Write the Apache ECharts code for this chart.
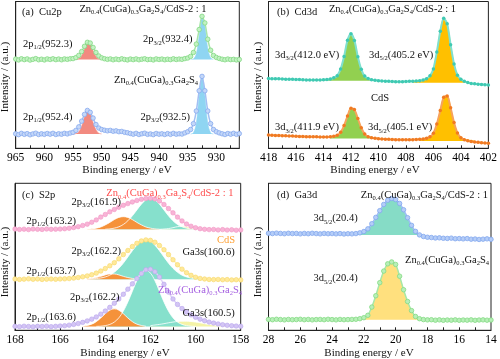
<!DOCTYPE html>
<html><head><meta charset="utf-8">
<script src="https://cdn.jsdelivr.net/npm/echarts@6/dist/echarts.min.js"></script>
<style>html,body{margin:0;padding:0;background:#fff}#c{width:500px;height:359px}</style>
</head><body><div id="c"></div>
<script>
// ---------- Panel (a) Cu2p : 965 -> 926 eV, step 0.5 ----------
const aStart = 965, aStep = 0.5;
const aTop = [60.8,60.2,61.0,60.4,60.9,60.1,60.6,61.1,60.3,60.7,
 60.2,60.9,60.5,61.0,60.4,60.8,60.3,60.9,60.6,61.0,
 61.1,61.8,63.3,65.9,69.5,72.2,71.7,68.7,65.3,62.9,
 61.6,61.0,60.6,60.9,60.3,60.8,60.4,61.0,60.5,60.2,
 60.8,60.4,60.9,60.3,60.7,61.0,60.4,60.6,60.2,60.9,
 60.5,60.8,60.3,60.7,60.4,61.0,60.5,60.8,60.6,61.1,
 61.5,62.6,65.3,71.0,80.9,89.9,85.4,74.3,66.8,63.2,
 61.9,61.2,60.7,60.3,60.8,60.4,60.6,60.2,60.5];
const aBot = [9.9,9.3,10.2,9.5,10.0,9.2,9.8,10.3,9.4,9.9,
 9.5,10.1,9.6,10.2,9.4,9.9,9.6,10.2,9.8,10.4,
 10.9,12.2,14.6,18.5,23.1,25.8,24.5,20.6,16.2,13.8,
 12.8,12.3,11.9,12.2,11.6,11.9,11.3,11.5,10.9,10.6,
 10.1,9.6,10.2,9.4,9.9,10.3,9.5,9.8,9.3,10.1,
 9.6,9.9,9.4,10.0,9.5,10.2,9.6,9.9,9.7,10.5,
 11.3,12.8,16.8,25.4,39.2,49.0,39.2,25.4,16.8,12.8,
 11.3,10.5,9.9,9.4,10.1,9.6,10.2,9.5,10.0];
const aTopRed = [60.6,61.1,63.1,67.5,71.5,71.0,66.5,62.6,60.9,60.5];      // from 954.5
const aTopBlue = [60.5,60.9,64.5,76.7,89.4,83.2,68.2,61.7,60.6];          // from 934.5
const aBotRed = [9.7,10.0,11.3,15.1,21.4,25.5,23.6,17.5,12.6,10.3,9.8];   // from 955
const aBotBlue = [9.7,10.6,17.2,35.6,49.0,35.6,17.2,10.6,9.7];           // from 934.5
const aTicks = [927.5,930,932.5,935,937.5,940,942.5,945,947.5,950,952.5,955,957.5,960,962.5,965];
const aLabels = [930,935,940,945,950,955,960,965];

// ---------- Panel (b) Cd3d : 418 -> 402 eV, step 0.25 ----------
const bStart = 418, bStep = 0.25;
const bTop = [47.5,47.4,47.3,47.3,47.2,47.1,47.0,47.0,
 46.9,46.8,46.7,46.6,46.6,46.6,46.6,46.6,
 46.7,46.9,47.2,48.0,49.5,54.1,62.6,73.6,
 78.0,73.5,62.4,53.8,49.2,47.5,46.7,46.3,
 46.0,45.9,45.7,45.6,45.5,45.4,45.4,45.4,
 45.5,45.6,45.6,45.8,46.0,46.5,47.4,49.4,
 54.1,65.6,79.8,88.6,84.9,70.6,57.5,49.8,
 47.0,45.6,44.8,44.2,43.9,43.7,43.5,43.3,
 43.1];
const bBot = [9.0,8.9,8.8,8.7,8.6,8.5,8.4,8.3,
 8.2,8.1,8.0,7.9,7.9,7.8,7.8,7.7,
 7.7,7.7,7.9,8.2,8.9,10.9,15.5,22.0,
 27.2,26.4,20.3,14.0,9.7,7.9,7.2,6.8,
 6.5,6.35,6.2,6.1,6.0,5.9,5.85,5.8,
 5.8,5.85,5.9,5.95,6.1,6.35,6.8,7.8,
 10.3,16.5,25.7,34.8,35.6,27.6,17.6,10.45,
 7.2,5.8,5.1,4.6,4.3,4.1,3.85,3.6,
 3.5];
const bTopGreen = [46.7,46.9,47.2,48.0,49.5,54.1,62.6,73.6,78.0,73.5,62.4,53.8,49.2,47.5,46.7,46.3,46.0]; // from 414
const bTopYellow = [45.6,45.8,46.0,46.5,47.4,49.4,54.1,65.6,79.8,88.6,84.9,70.6,57.5,49.8,47.0,45.6,44.8]; // from 407.5
const bBotGreen = [7.3,7.7,8.5,10.6,15.3,21.9,27.2,26.4,20.3,14.0,9.9,8.3,7.6,7.2,6.9];  // from 413.5
const bBotYellow = [5.6,6.0,6.6,7.7,10.2,16.4,25.7,34.8,35.6,27.6,17.6,10.6,7.6,6.4,5.8,5.4,5.1]; // from 407
const bTicks = [403,404,405,406,407,408,409,410,411,412,413,414,415,416,417];
const bLabels = [402,404,406,408,410,412,414,416,418];

// ---------- Panel (c) S2p : 168 -> 158 eV, step 0.2 ----------
const cStart = 168, cStep = 0.2;
const cTop = [68.9,68.6,68.8,68.5,68.9,68.7,68.6,68.9,68.7,68.8,
 68.9,69.1,69.4,69.9,70.5,71.3,72.2,73.5,75.1,77.0,
 78.8,80.6,82.2,83.7,85.0,86.2,87.3,88.3,89.1,89.6,
 89.8,89.4,88.0,85.6,82.8,79.9,77.0,74.4,72.3,70.8,
 69.8,69.1,68.7,68.5,68.6,68.3,68.5,68.2,68.4,68.1,
 68.3];
const cMid = [34.9,34.6,34.8,35.0,34.7,34.9,34.6,34.8,34.9,34.7,
 34.9,35.0,35.2,35.5,35.9,36.4,37.0,37.8,38.9,40.3,
 42.0,43.9,46.0,48.6,51.5,54.3,57.0,59.2,60.8,61.5,
 61.2,59.9,57.7,54.8,51.5,48.0,44.6,41.6,39.2,37.4,
 36.1,35.3,34.9,34.6,34.5,34.6,34.4,34.5,34.3,34.4,
 34.3];
const cBot = [2.7,2.5,2.8,2.6,2.4,2.7,2.6,2.8,2.5,2.7,
 2.9,3.1,3.5,4.0,4.6,5.4,6.4,7.6,9.1,11.0,
 13.1,15.6,18.4,21.3,24.5,28.0,31.6,35.2,38.6,41.2,
 41.6,39.8,36.2,31.3,26.0,21.3,17.6,14.8,12.4,10.5,
 8.9,7.6,6.5,5.6,4.9,4.3,3.8,3.4,3.1,2.9,
 2.7];
const cTopOrange = [68.8,69.0,69.5,70.3,71.7,73.4,75.3,76.8,77.3,76.8,75.3,73.4,71.7,70.3,69.5,69.0,68.8]; // from 164.8
const cTopTeal = [68.8,69.0,69.5,70.4,72.0,74.5,77.9,81.9,85.8,88.7,89.8,88.7,85.8,81.9,77.9,74.5,72.0,70.4,69.5,69.0,68.8,68.7]; // from 164.0
const cTopYellow = [68.7,68.9,69.2,69.8,70.5,70.7,70.5,69.8,69.2,68.9,68.7]; // from 161.6
const cMidTeal = [35.0,35.2,35.6,36.3,37.5,39.5,42.2,45.7,49.9,54.1,57.9,60.5,61.4,60.5,57.9,54.1,49.9,45.7,42.2,39.5,37.5,36.3,35.6,35.2,35.0,34.9]; // from 164.6
const cMidOrange = [35.0,35.3,35.9,36.7,37.7,38.3,38.3,37.7,36.7,35.9,35.3,35.0]; // from 164.8
const cBotYellow = [3.2,3.6,4.0,4.5,5.1,5.6,6.0,6.2,6.2,6.0,5.6,5.1,4.5,4.0,3.6,3.2,3.0,2.8]; // from 162.0
const cBotTeal = [2.7,2.8,3.2,4.0,5.6,8.5,13.1,19.3,26.6,33.7,38.9,40.9,38.9,33.7,26.6,19.3,13.1,8.5,5.6,4.0,3.2,2.8,2.7]; // from 164.4
const cBotOrange = [2.8,3.3,4.2,5.9,8.4,11.3,13.7,14.6,13.7,11.3,8.4,5.9,4.2,3.3,2.8]; // from 165.0
const cTicks = [159,160,161,162,163,164,165,166,167];
const cLabels = [158,160,162,164,166,168];

// ---------- Panel (d) Ga3d : 28 -> 14 eV, step 0.25 ----------
const dStart = 28, dStep = 0.25;
const dTop = [66.0,65.8,66.1,65.9,65.7,66.0,65.8,65.9,
 65.6,65.9,65.7,66.0,65.8,65.6,65.9,65.7,
 65.8,65.6,65.8,65.5,65.7,65.6,65.8,66.3,
 67.2,69.0,72.5,76.8,81.4,85.6,88.5,89.7,
 88.9,86.3,82.0,76.6,71.4,67.3,64.9,63.8,
 63.3,63.1,62.8,62.9,62.6,62.5,62.7,62.3,
 62.4,62.2,62.4,62.0,62.1,61.8,62.0,62.2,
 61.9];
const dBot = [7.4,7.2,7.5,7.3,7.1,7.4,7.2,7.3,
 7.5,7.2,7.4,7.1,7.3,7.4,7.2,7.5,
 7.3,7.1,7.4,7.2,7.3,7.4,7.5,7.9,
 8.6,10.2,15.8,23.5,32.4,40.3,45.2,46.5,
 44.8,36.8,27.6,19.6,13.4,9.4,7.9,7.3,
 7.1,7.2,6.9,7.1,6.8,7.0,6.9,7.1,
 6.8,7.0,6.9,7.1,6.8,7.0,7.1,6.9,
 7.0];
const dTopTeal = [65.0,65.6,66.6,68.5,72.0,76.3,80.9,85.1,88.0,89.2,88.4,85.8,81.5,76.2,70.9,66.9,64.8]; // from 22.5
const dBotYellow = [7.3,7.8,9.6,15.2,23.0,31.9,39.8,44.7,46.0,44.3,36.3,27.1,19.1,12.9,9.0,7.6,7.2]; // from 22.25
const dTicks = [15,16,17,18,19,20,21,22,23,24,25,26,27];
const dLabels = [14,16,18,20,22,24,26,28];

// ---------- build ----------
const F = '"Liberation Serif","Times New Roman",serif';
function pts(start, step, vals){ return vals.map((v,i)=>[Math.round((start - step*i)*1000)/1000, v]); }
function dataS(g, start, step, vals, st){
  return {type:'line', xAxisIndex:g, yAxisIndex:g, data:pts(start,step,vals), smooth:0.25,
    symbol:'circle', symbolSize:st.size, showSymbol:true,
    itemStyle:{color:st.fill, borderColor:st.border, borderWidth:st.bw},
    lineStyle:{color:st.line, width:st.lw}, z:4, silent:true, animation:false};
}
function compS(g, start, step, vals, origin, color, outline, ow){
  return {type:'line', xAxisIndex:g, yAxisIndex:g, data:pts(start,step,vals), smooth:0.4,
    symbol:'none', lineStyle:{color:outline, width:ow}, areaStyle:{color:color, opacity:1, origin:origin},
    z:2, silent:true, animation:false};
}
const axisCol = '#222';
function xAx(g, min, max, ticks, labels){
  return {type:'value', gridIndex:g, min:min, max:max, inverse:true,
    axisLine:{show:true, onZero:false, lineStyle:{color:axisCol, width:1}},
    axisTick:{show:true, inside:true, length:3, customValues:ticks, lineStyle:{color:axisCol}},
    axisLabel:{customValues:labels, margin:4, fontSize:11.5, fontFamily:F, color:'#000'},
    splitLine:{show:false}};
}
function yAx(g){
  return {type:'value', gridIndex:g, min:0, max:100,
    axisLine:{show:true, lineStyle:{color:axisCol, width:1}}, axisTick:{show:false},
    axisLabel:{show:false}, splitLine:{show:false}};
}
const gridBase = {show:true, borderColor:axisCol, borderWidth:1, backgroundColor:'rgba(0,0,0,0)'};

const R = {s:{fontSize:6.5, fontFamily:F, verticalAlign:'bottom', lineHeight:8}};
function T(x, y, text, o){
  o = o || {};
  return {type:'text', x:x, y:y, rotation:o.rot||0, z:100, silent:true,
    style:{text:text, rich:R, fill:o.color||'#111', font:(o.size||10.5)+'px '+F,
      lineHeight:14, align:o.align||'left', verticalAlign:'middle',
      textAlign:o.align||'left', textVerticalAlign:'middle'}};
}
const formulaFull = 'Zn{s|0.4}(CuGa){s|0.3}Ga{s|2}S{s|4}/CdS-2 : 1';
const formulaZ = 'Zn{s|0.4}(CuGa){s|0.3}Ga{s|2}S{s|4}';

const st = {
  aG:{size:4.5, fill:'#c3f2c3', border:'#84d884', bw:0.8, line:'#a9e6a9', lw:1.5},
  aB:{size:4.5, fill:'#c4d7f8', border:'#86a9ef', bw:0.8, line:'#a3c0f3', lw:1.5},
  bT:{size:3.5, fill:'#3fc9b2', border:'#3fc9b2', bw:0, line:'#7ee0cf', lw:2},
  bO:{size:3.5, fill:'#f07a22', border:'#f07a22', bw:0, line:'#f7a35c', lw:2},
  cP:{size:4.5, fill:'#f8b4d6', border:'#f296c5', bw:0.6, line:'#f9c6e0', lw:1.5},
  cY:{size:4.5, fill:'#ffe99a', border:'#f7d766', bw:0.6, line:'#fff0b8', lw:1.5},
  cL:{size:4.5, fill:'#d3c5f4', border:'#b9a5ee', bw:0.6, line:'#ddd2f7', lw:1.5},
  dB:{size:4.5, fill:'#b5cdf7', border:'#82a7ef', bw:0.8, line:'#9dbdf5', lw:1.5},
  dG:{size:4.5, fill:'#b8efb8', border:'#84db84', bw:0.8, line:'#a6e8a6', lw:1.5}
};
const RED='#f28a80', SKY='#8fd5f2', LGREEN='#92d050', GOLD='#ffc000', ORG='#f5923a', TEAL='#86e0cc', LYEL='#f4f3a6', DTEAL='#86dcc6', DYEL='#ffe07e';

const series = [
  // (a)
  compS(0, 954.5, 0.5, aTopRed, 60.5, RED, RED, 0.5),
  compS(0, 934.5, 0.5, aTopBlue, 60.5, SKY, SKY, 0.5),
  compS(0, 955, 0.5, aBotRed, 9.7, RED, RED, 0.5),
  compS(0, 934.5, 0.5, aBotBlue, 9.7, SKY, SKY, 0.5),
  dataS(0, aStart, aStep, aTop, st.aG),
  dataS(0, aStart, aStep, aBot, st.aB),
  // (b)
  compS(1, 414, 0.25, bTopGreen, 46.0, LGREEN, LGREEN, 0.5),
  compS(1, 407.5, 0.25, bTopYellow, 44.6, GOLD, GOLD, 0.5),
  compS(1, 413.5, 0.25, bBotGreen, 6.6, LGREEN, LGREEN, 0.5),
  compS(1, 407, 0.25, bBotYellow, 5.0, GOLD, GOLD, 0.5),
  dataS(1, bStart, bStep, bTop, st.bT),
  dataS(1, bStart, bStep, bBot, st.bO),
  // (c)
  compS(2, 161.6, 0.2, cTopYellow, 68.7, LYEL, '#ffffff', 0.8),
  compS(2, 164.0, 0.2, cTopTeal, 68.7, TEAL, '#ffffff', 0.8),
  compS(2, 164.8, 0.2, cTopOrange, 68.7, ORG, '#ffffff', 0.8),
  compS(2, 164.6, 0.2, cMidTeal, 34.8, TEAL, '#ffffff', 0.8),
  compS(2, 164.8, 0.2, cMidOrange, 34.8, ORG, '#ffffff', 0.8),
  compS(2, 162.0, 0.2, cBotYellow, 2.6, LYEL, '#ffffff', 0.8),
  compS(2, 164.4, 0.2, cBotTeal, 2.6, TEAL, '#ffffff', 0.8),
  compS(2, 165.0, 0.2, cBotOrange, 2.6, ORG, '#ffffff', 0.8),
  dataS(2, cStart, cStep, cTop, st.cP),
  dataS(2, cStart, cStep, cMid, st.cY),
  dataS(2, cStart, cStep, cBot, st.cL),
  // (d)
  compS(3, 22.5, 0.25, dTopTeal, 64.8, DTEAL, DTEAL, 0.5),
  compS(3, 22.25, 0.25, dBotYellow, 7.2, DYEL, DYEL, 0.5),
  dataS(3, dStart, dStep, dTop, st.dB),
  dataS(3, dStart, dStep, dBot, st.dG)
];

const graphic = [
  // (a)
  T(22, 12.5, '(a)  Cu2p'),
  T(143, 9, formulaFull, {align:'center'}),
  T(23, 44, '2p{s|1/2}(952.3)'),
  T(143, 39.5, '2p{s|3/2}(932.4)'),
  T(156, 80, formulaZ, {align:'center'}),
  T(23, 117, '2p{s|1/2}(952.4)'),
  T(140.5, 117, '2p{s|3/2}(932.5)'),
  T(5.5, 77, 'Intensity / (a.u.)', {rot:Math.PI/2, align:'center', size:11}),
  T(127, 170.5, 'Binding energy / eV', {align:'center', size:11}),
  // (b)
  T(277, 12.5, '(b)  Cd3d'),
  T(392.5, 9, formulaFull, {align:'center'}),
  T(275, 55, '3d{s|3/2}(412.0 eV)'),
  T(369, 55, '3d{s|5/2}(405.2 eV)'),
  T(380, 98.5, 'CdS', {align:'center'}),
  T(275, 127.5, '3d{s|3/2}(411.9 eV)'),
  T(368, 127.5, '3d{s|5/2}(405.1 eV)'),
  T(258.5, 77, 'Intensity / (a.u.)', {rot:Math.PI/2, align:'center', size:11}),
  T(375, 170.5, 'Binding energy / eV', {align:'center', size:11}),
  // (c)
  T(22, 195, '(c)  S2p'),
  T(233.5, 193.5, formulaFull, {align:'right', color:'#ff4b4b'}),
  T(71.5, 202, '2p{s|3/2}(161.9)'),
  T(26.5, 221, '2p{s|1/2}(163.2)'),
  T(235, 240.5, 'CdS', {align:'right', color:'#ffa033'}),
  T(71.5, 251, '2p{s|3/2}(162.2)'),
  T(182.5, 252.5, 'Ga3s(160.6)'),
  T(26.5, 271, '2p{s|1/2}(163.7)'),
  T(242, 290, formulaZ, {align:'right', color:'#a45ee0'}),
  T(70, 297, '2p{s|3/2}(162.2)'),
  T(182.5, 313.5, 'Ga3s(160.5)'),
  T(26.5, 317, '2p{s|1/2}(163.6)'),
  T(5.5, 262, 'Intensity / (a.u.)', {rot:Math.PI/2, align:'center', size:11}),
  T(125, 353.5, 'Binding energy / eV', {align:'center', size:11}),
  // (d)
  T(277, 195, '(d)  Ga3d'),
  T(488, 195, formulaFull, {align:'right'}),
  T(313.5, 218.5, '3d{s|5/2}(20.4)'),
  T(489, 260, formulaZ, {align:'right'}),
  T(313.5, 278.5, '3d{s|5/2}(20.4)'),
  T(258.5, 262, 'Intensity / (a.u.)', {rot:Math.PI/2, align:'center', size:11}),
  T(369, 353, 'Binding energy / eV', {align:'center', size:11})
];

const chart = echarts.init(document.getElementById('c'), null, {renderer:'canvas'});
chart.setOption({
  animation:false,
  backgroundColor:'#ffffff',
  grid:[
    Object.assign({left:15.7, top:1.5, width:223.6, height:146.8}, gridBase),
    Object.assign({left:268.5, top:1.5, width:222, height:146.8}, gridBase),
    Object.assign({left:15, top:183.3, width:225.7, height:147}, gridBase),
    Object.assign({left:268.5, top:183.3, width:222.5, height:147}, gridBase)
  ],
  xAxis:[
    xAx(0, 926, 965, aTicks, aLabels),
    xAx(1, 402, 418, bTicks, bLabels),
    xAx(2, 158, 168, cTicks, cLabels),
    xAx(3, 14, 28, dTicks, dLabels)
  ],
  yAxis:[yAx(0), yAx(1), yAx(2), yAx(3)],
  series:series,
  graphic:graphic
});
</script></body></html>
